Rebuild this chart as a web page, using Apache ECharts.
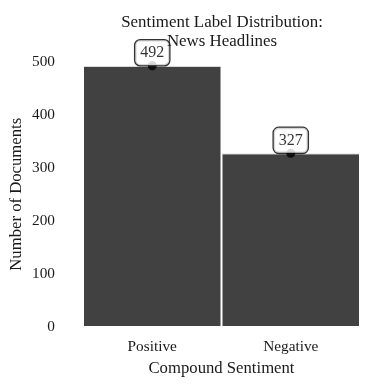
<!DOCTYPE html>
<html>
<head>
<meta charset="utf-8">
<script src="https://cdn.jsdelivr.net/npm/echarts@6/dist/echarts.min.js"></script>
<style>html,body{margin:0;padding:0;background:#fff}#c{width:385px;height:389px}</style>
</head>
<body>
<div id="c"></div>
<script>
const categories = ["Positive", "Negative"];
const counts = [492, 327];
const yTicks = [0, 100, 200, 300, 400, 500];

const chart = echarts.init(document.getElementById('c'), null, {renderer: 'canvas'});
const font = '"Liberation Serif", "DejaVu Serif", serif';
const ink = '#1a1a1a';
chart.setOption({
  animation: false,
  backgroundColor: '#fff',
  textStyle: {fontFamily: font},
  title: {
    text: 'Sentiment Label Distribution:\nNews Headlines',
    left: 217, top: 8, textAlign: 'center',
    textStyle: {fontFamily: font, fontSize: 16.9, fontWeight: 'normal', color: ink, lineHeight: 19}
  },
  grid: {left: 83, right: 25, top: 61.5, bottom: 62, containLabel: false, outerBoundsMode: 'none'},
  xAxis: {
    type: 'category', data: categories,
    axisLine: {show: false}, axisTick: {show: false},
    axisLabel: {fontFamily: font, fontSize: 15.3, color: ink, margin: 12},
    name: 'Compound Sentiment', nameLocation: 'middle', nameGap: 33, nameMoveOverlap: false,
    nameTextStyle: {fontFamily: font, fontSize: 16.7, color: ink}
  },
  yAxis: {
    type: 'value', min: 0, max: yTicks[yTicks.length - 1], interval: 100,
    axisLine: {show: false}, axisTick: {show: false}, splitLine: {show: false},
    axisLabel: {fontFamily: font, fontSize: 15.3, color: ink, margin: 28},
    name: 'Number of Documents', nameLocation: 'middle', nameGap: 58, nameMoveOverlap: false,
    nameTextStyle: {fontFamily: font, fontSize: 16.7, color: ink}
  },
  series: [
    {
      type: 'bar', data: counts, barWidth: '100%',
      itemStyle: {color: '#414141', borderColor: '#fff', borderWidth: 1}
    },
    {
      type: 'scatter', data: counts, symbol: 'circle', symbolSize: 9,
      itemStyle: {color: '#000'}, z: 5,
      label: {
        show: true, position: 'top', distance: -4,
        fontFamily: font, fontSize: 16, color: '#000', lineHeight: 17,
        backgroundColor: '#fff', borderColor: '#000', borderWidth: 1.3, borderRadius: 5,
        padding: [4, 5, 4, 5]
      }
    }
  ]
});
</script>
</body>
</html>
